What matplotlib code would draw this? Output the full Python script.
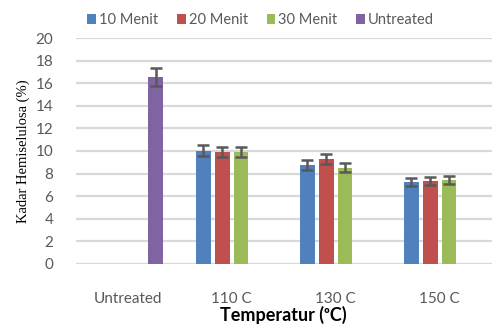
import numpy as np
import matplotlib
matplotlib.use('Agg')
import matplotlib.pyplot as plt

# data
categories = ['Untreated', '110 C', '130 C', '150 C']
series = ['10 Menit', '20 Menit', '30 Menit', 'Untreated']
menit10 = [np.nan, 10.03, 8.79, 7.28]
menit20 = [np.nan, 9.94, 9.32, 7.37]
menit30 = [np.nan, 9.94, 8.52, 7.46]
untreated = [16.55, np.nan, np.nan, np.nan]
err10 = [0, 0.5, 0.45, 0.35]
err20 = [0, 0.45, 0.45, 0.35]
err30 = [0, 0.45, 0.4, 0.35]
err_un = [0.8, 0, 0, 0]
colors = ['#4F81BD', '#C0504D', '#9BBB59', '#8064A2']

values = [menit10, menit20, menit30, untreated]
errors = [err10, err20, err30, err_un]

plt.rcParams['font.family'] = ['Lato', 'DejaVu Sans']
fig = plt.figure(figsize=(4.94, 3.34), dpi=100)
ax = fig.add_axes([0.153, 0.21, 0.842, 0.676])

x = np.arange(len(categories))
w = 0.143
step = 0.181
for i in range(4):
  pos = x + (i - 1.5) * step
  v = np.array(values[i], dtype=float)
  e = np.array(errors[i], dtype=float)
  ax.bar(pos, v, w, color=colors[i], label=series[i], zorder=3)
  m = ~np.isnan(v)
  ax.errorbar(pos[m], v[m], yerr=e[m], fmt='none', ecolor='#595959',
              elinewidth=1.8, capsize=4, capthick=1.8, zorder=4)

ax.set_xlim(-0.5, 3.5)
ax.set_ylim(0, 20)
ax.set_yticks(range(0, 21, 2))
ax.set_xticks(x)
ax.set_xticklabels(categories)
ax.grid(axis='y', color='#d9d9d9', linewidth=1.6, zorder=0)
for s in ax.spines.values():
  s.set_visible(False)
ax.tick_params(length=0, colors='#595959', labelsize=11)
ax.tick_params(axis='x', pad=20)
ax.tick_params(axis='y', pad=16)
ax.set_ylabel('Kadar Hemiselulosa (%)', family='Liberation Serif', fontsize=10.5, labelpad=4)
ax.set_xlabel('Temperatur (ᵒC)', fontweight='bold', fontsize=13, labelpad=0)
ax.legend(loc='center', bbox_to_anchor=(0.445, 1.08), ncol=4, frameon=False,
          borderaxespad=0, borderpad=0,
          fontsize=10.5, handlelength=0.6, handleheight=0.6, handletextpad=0.2,
          columnspacing=1.3, labelcolor='#595959')

fig.savefig('out.png', dpi=100)
